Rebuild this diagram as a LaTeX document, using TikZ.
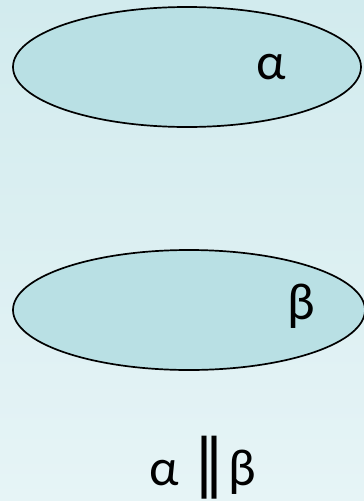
\documentclass[tikz,border=0pt]{standalone}
\usepackage{fontspec}
\setmainfont{Carlito}
\newfontfamily\symfont{DejaVu Sans}
\usepackage{tikz}
\usetikzlibrary{shapes.geometric,shadings}
\definecolor{bgTop}{HTML}{D2EBEE}
\definecolor{bgBottom}{HTML}{E6F4F6}
\definecolor{planeFill}{HTML}{B9E0E4}

\begin{document}
\begin{tikzpicture}[x=1pt, y=-1pt,
    plane/.style={ellipse, draw=black, line width=1.7pt, fill=planeFill, inner sep=0pt},
    greek/.style={font=\fontsize{52}{60}\selectfont, text=black, inner sep=0pt}]
  \useasboundingbox (0,0) rectangle (364,501);
  \shade[top color=bgTop, bottom color=bgBottom] (0,0) rectangle (364,501);
  % the two planes
  \node[plane, minimum width=348pt, minimum height=120pt] (alpha) at (187,67) {};
  \node[plane, minimum width=352pt, minimum height=120pt] (beta) at (189,310) {};
  \node[greek] (alphaLbl) at (271.5,67) {α};
  \node[greek] (betaLbl) at (301.5,306) {β};
  % relation
  \node[greek, anchor=base] (rel) at (203,485)
    {α\hspace{14pt}{\symfont\fontsize{64}{64}\selectfont ∥}\hspace{3pt}β};
\end{tikzpicture}
\end{document}
